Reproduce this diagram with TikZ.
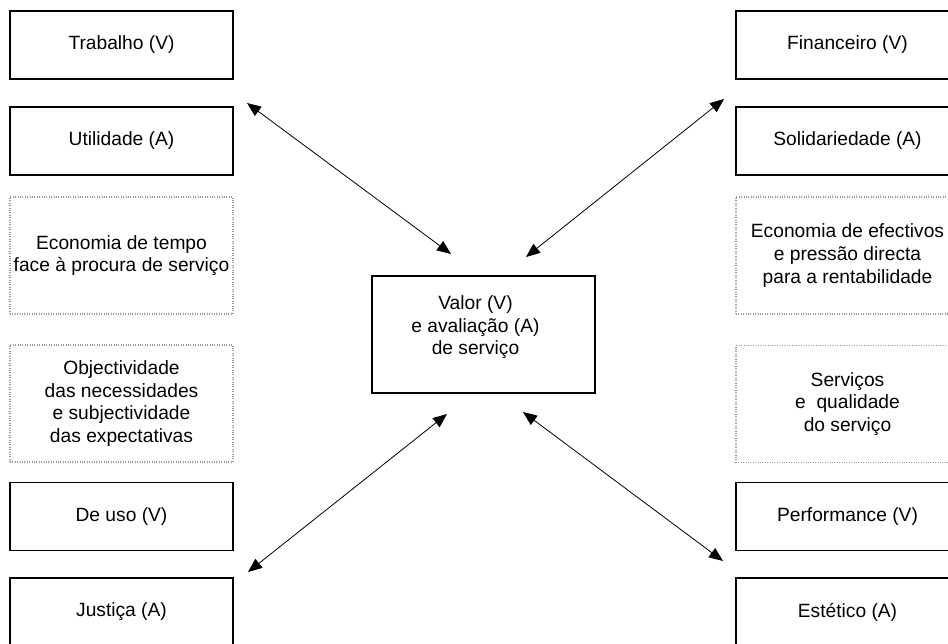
\documentclass[tikz,border=0pt]{standalone}
\usepackage{fontspec}
\setmainfont{Liberation Sans}
\usetikzlibrary{arrows.meta}

\begin{document}
\begin{tikzpicture}[x=0.75pt,y=-0.75pt,>={Triangle[length=10.5pt,width=8.5pt]},
    font=\fontsize{14.4}{16.9}\selectfont,
    flat box/.style={rectangle,draw,line width=0.8pt,minimum width=167.25pt,minimum height=51pt,inner sep=0pt,align=center},
    tall box/.style={rectangle,draw=gray!80,densely dotted,line width=0.8pt,minimum width=167.25pt,minimum height=87.75pt,inner sep=0pt,align=center}]

\clip (0,0) rectangle (948,643);

% left column
\node[flat box] (trabalho) at (121.5,45) {Trabalho (V)};
\node[flat box] (utilidade) at (121.5,141) {Utilidade (A)};
\node[tall box] (tempo) at (121.5,255.5) {Economia de tempo\\face à procura de serviço};
\node[tall box] (objectiv) at (121.5,403.5) {Objectividade\\das necessidades\\e subjectividade\\das expectativas};
\node[flat box] (deuso) at (121.5,516.5) {De uso (V)};
\node[flat box] (justica) at (121.5,612) {Justiça (A)};

% right column
\node[flat box] (financeiro) at (847.5,45) {Financeiro (V)};
\node[flat box] (solidar) at (847.5,141) {Solidariedade (A)};
\node[tall box] (efectivos) at (847.5,255.5) {Economia de efectivos\\e pressão directa\\para a rentabilidade};
\node[tall box] (servicos) at (847.5,404) {Serviços\\e\ \ qualidade\\do serviço};
\node[flat box] (performance) at (847.5,516.5) {Performance (V)};
\node[flat box] (estetico) at (847.5,612) {Estético (A)};

% centre
\node[flat box, minimum height=87.75pt] (valor) at (483.5,334.5) {};
\node[align=center] (valortxt) at ([xshift=-6pt,yshift=5.5pt]valor.center) {Valor (V)\\e avaliação (A)\\de serviço};

% arrow ends
\coordinate (tl) at (247,103);
\coordinate (tlc) at (451,254);
\coordinate (tr) at (724,99);
\coordinate (trc) at (526,257);
\coordinate (bl) at (248,572);
\coordinate (blc) at (447,414);
\coordinate (br) at (723,561);
\coordinate (brc) at (523,412);

\path[<->,line width=0.6pt]
(tl) edge (tlc)
(tr) edge (trc)
(bl) edge (blc)
(br) edge (brc);
\end{tikzpicture}
\end{document}
